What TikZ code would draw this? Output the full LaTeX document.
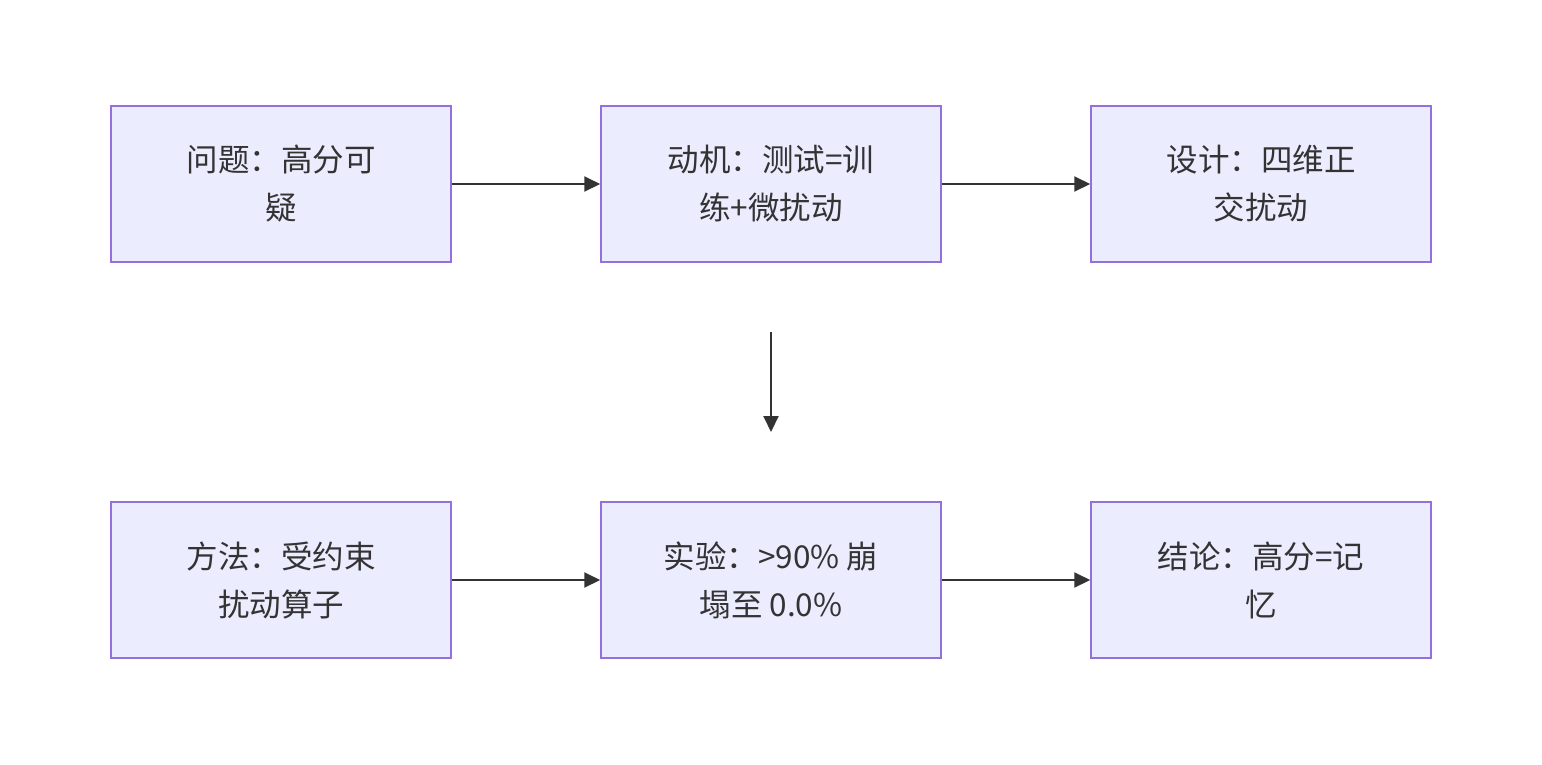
\documentclass[tikz,border=0pt]{standalone}
\usepackage{fontspec}
\setmainfont{Noto Sans CJK SC}
\usetikzlibrary{arrows.meta}
\definecolor{boxfill}{HTML}{ECECFF}
\definecolor{boxline}{HTML}{9370DB}
\definecolor{ink}{HTML}{333333}
\tikzset{
  flowbox/.style={draw=boxline, fill=boxfill, line width=1.5pt, minimum width=340pt, minimum height=156pt, inner sep=0pt, align=center, text=ink, font=\fontsize{31.5}{48}\selectfont},
  flowarrow/.style={draw=ink, line width=2pt, -{Triangle[length=16pt,width=15pt]}}
}
\begin{document}
\begin{tikzpicture}[x=1pt,y=-1pt]
\useasboundingbox[fill=white] (0,0) rectangle (1542,764);
\node[flowbox] (a) at (281,184) {问题：高分可\\疑};
\node[flowbox] (b) at (771,184) {动机：测试=训\\练+微扰动};
\node[flowbox] (c) at (1261,184) {设计：四维正\\交扰动};
\node[flowbox] (d) at (281,580) {方法：受约束\\扰动算子};
\node[flowbox] (e) at (771,580) {实验：>90\% 崩\\塌至 0.0\%};
\node[flowbox] (f) at (1261,580) {结论：高分=记\\忆};
\coordinate (vs) at (771,332);
\coordinate (ve) at (771,432);
\draw[flowarrow] (a) -- (b);
\draw[flowarrow] (b) -- (c);
\draw[flowarrow] (d) -- (e);
\draw[flowarrow] (e) -- (f);
\draw[flowarrow] (vs) -- (ve);
\end{tikzpicture}
\end{document}
